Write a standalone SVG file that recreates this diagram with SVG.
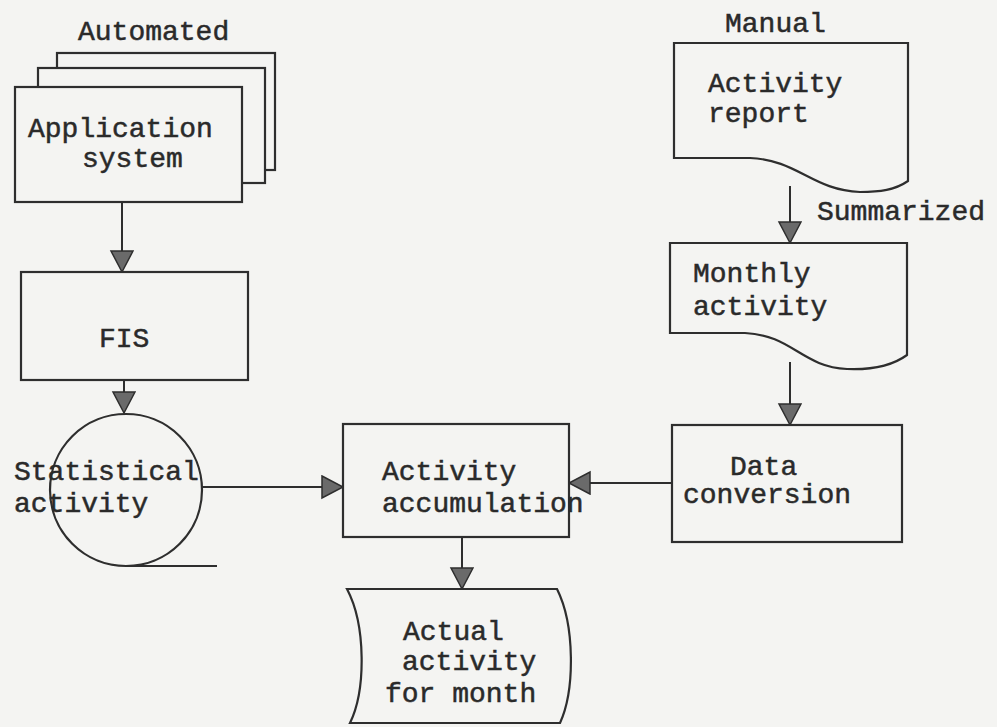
<svg xmlns="http://www.w3.org/2000/svg" width="997" height="727" viewBox="0 0 997 727">
  <defs>
    <style>
      .shape { fill: #f4f4f2; stroke: #2e2e2e; stroke-width: 2.2; }
      .line { fill: none; stroke: #2e2e2e; stroke-width: 2; }
      .label { font-family: "Liberation Mono", "Courier New", monospace; font-size: 28px; fill: #2a2a2a; stroke: #2a2a2a; stroke-width: 0.5; }
    </style>
    <marker id="arrow" markerUnits="userSpaceOnUse" markerWidth="26" markerHeight="26" refX="22" refY="12" orient="auto">
      <path d="M1,1 L22,12 L1,23 Z" fill="#6a6a6a" stroke="#2e2e2e" stroke-width="1.5"/>
    </marker>
  </defs>

  <rect width="997" height="727" fill="#f4f4f2"/>

  <!-- connectors -->
  <g id="connectors">
    <path class="line" d="M122,202 V272" marker-end="url(#arrow)"/>
    <path class="line" d="M124,380 V413" marker-end="url(#arrow)"/>
    <path class="line" d="M202,487 H343" marker-end="url(#arrow)"/>
    <path class="line" d="M672,483 H569" marker-end="url(#arrow)"/>
    <path class="line" d="M462,537 V589" marker-end="url(#arrow)"/>
    <path class="line" d="M790,186 V243" marker-end="url(#arrow)"/>
    <path class="line" d="M790,362 V425" marker-end="url(#arrow)"/>
  </g>

  <!-- automated source: stacked application system sheets -->
  <g id="application-system">
    <text class="label" x="78" y="40">Automated</text>
    <rect class="shape" x="57" y="53" width="218" height="117"/>
    <rect class="shape" x="38" y="68" width="227" height="115"/>
    <rect class="shape" x="15" y="87" width="227" height="115"/>
    <text class="label" x="28" y="137">Application</text>
    <text class="label" x="82" y="167">system</text>
  </g>

  <g id="fis">
    <rect class="shape" x="21" y="272" width="227" height="108"/>
    <text class="label" x="99" y="347">FIS</text>
  </g>

  <!-- tape storage symbol -->
  <g id="statistical-activity">
    <circle class="shape" cx="126" cy="490" r="76"/>
    <path class="line" d="M126,566 H217"/>
    <text class="label" x="14" y="480">Statistical</text>
    <text class="label" x="14" y="512">activity</text>
  </g>

  <g id="activity-accumulation">
    <rect class="shape" x="343" y="424" width="226" height="113"/>
    <text class="label" x="382" y="480">Activity</text>
    <text class="label" x="382" y="512">accumulation</text>
  </g>

  <g id="activity-report">
    <text class="label" x="725" y="32">Manual</text>
    <path class="shape" d="M674,43 H908 V181 C895,190 880,192 860,192 C812,190 798,160 750,158 H674 Z"/>
    <text class="label" x="708" y="92">Activity</text>
    <text class="label" x="708" y="122">report</text>
  </g>

  <text class="label" x="817" y="220">Summarized</text>

  <g id="monthly-activity">
    <path class="shape" d="M670,243 H907 V355 C892,366 872,370 847,369 C802,367 792,335 745,333 H670 Z"/>
    <text class="label" x="693" y="282">Monthly</text>
    <text class="label" x="693" y="315">activity</text>
  </g>

  <g id="data-conversion">
    <rect class="shape" x="672" y="425" width="230" height="117"/>
    <text class="label" x="730" y="475">Data</text>
    <text class="label" x="683" y="503">conversion</text>
  </g>

  <g id="actual-activity">
    <path class="shape" d="M347,589 H557 C575,625 575,690 560,723 H350 C366,690 366,625 347,589 Z"/>
    <text class="label" x="403" y="640">Actual</text>
    <text class="label" x="402" y="670">activity</text>
    <text class="label" x="385" y="702">for month</text>
  </g>
</svg>
